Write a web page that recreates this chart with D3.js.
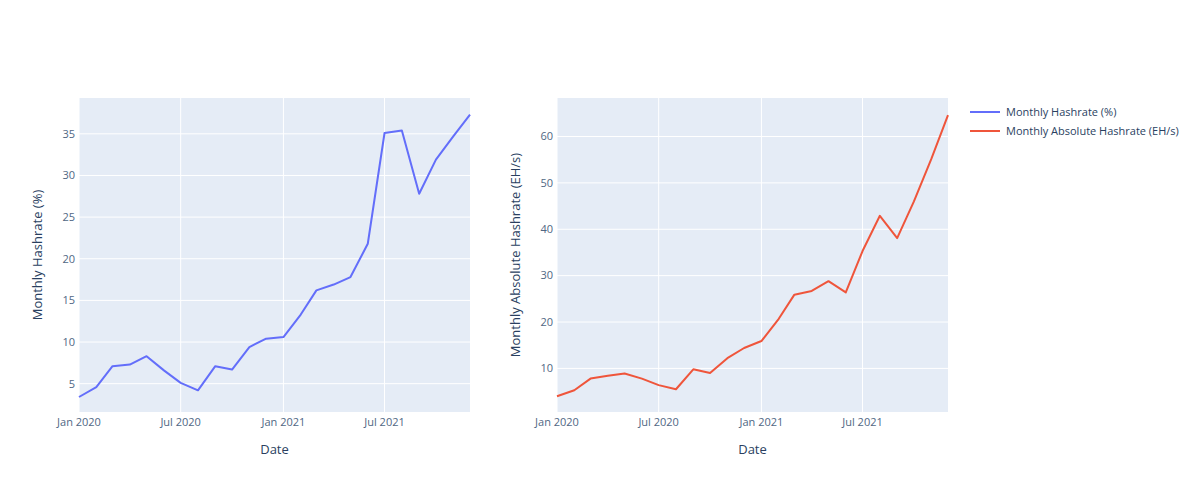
<!DOCTYPE html>
<html>
<head>
<meta charset="utf-8">
<script src="https://cdn.jsdelivr.net/npm/d3@7"></script>
<style>
  body { margin: 0; background: #fff; }
  svg text { font-family: "Open Sans", "Noto Sans", sans-serif; }
</style>
</head>
<body>
<div id="chart"></div>
<script>
const width = 1200, height = 492;

// monthly data, Jan 2020 - Dec 2021
const months = ["2020-01","2020-02","2020-03","2020-04","2020-05","2020-06","2020-07","2020-08","2020-09","2020-10","2020-11","2020-12",
                "2021-01","2021-02","2021-03","2021-04","2021-05","2021-06","2021-07","2021-08","2021-09","2021-10","2021-11","2021-12"];
const hashratePct = [3.4, 4.6, 7.1, 7.3, 8.3, 6.6, 5.1, 4.2, 7.1, 6.7, 9.4, 10.4,
                     10.6, 13.3, 16.2, 16.9, 17.8, 21.8, 35.1, 35.4, 27.8, 31.9, 34.7, 37.3];
const hashrateAbs = [4.0, 5.3, 7.8, 8.4, 8.9, 7.8, 6.4, 5.5, 9.8, 9.0, 12.2, 14.4,
                     15.9, 20.7, 25.9, 26.7, 28.8, 26.4, 35.3, 42.9, 38.1, 46.0, 55.1, 64.6];
const xTickDates = ["2020-01","2020-07","2021-01","2021-07"];
const pctTicks = [5, 10, 15, 20, 25, 30, 35];
const absTicks = [10, 20, 30, 40, 50, 60];
const seriesNames = ["Monthly Hashrate (%)", "Monthly Absolute Hashrate (EH/s)"];
const seriesColors = ["#636efa", "#EF553B"];

const parseMonth = d3.timeParse("%Y-%m");
const dates = months.map(parseMonth);
const fmt = d3.timeFormat("%b %Y");

const svg = d3.select("#chart").append("svg")
  .attr("width", width)
  .attr("height", height);

function drawPanel(opts) {
  const x = d3.scaleTime()
    .domain(d3.extent(dates))
    .range([opts.left, opts.right]);
  const y = d3.scaleLinear()
    .domain(opts.yDomain)
    .range([opts.bottom, opts.top]);

  const g = svg.append("g");

  g.append("rect")
    .attr("x", opts.left).attr("y", opts.top)
    .attr("width", opts.right - opts.left)
    .attr("height", opts.bottom - opts.top)
    .attr("fill", "#e5ecf6");

  // grid
  g.selectAll(".vgrid")
    .data(xTickDates.map(parseMonth))
    .enter().append("line")
      .attr("x1", d => x(d)).attr("x2", d => x(d))
      .attr("y1", opts.top).attr("y2", opts.bottom)
      .attr("stroke", "#fff").attr("stroke-width", 1);
  g.selectAll(".hgrid")
    .data(opts.yTicks)
    .enter().append("line")
      .attr("x1", opts.left).attr("x2", opts.right)
      .attr("y1", d => y(d)).attr("y2", d => y(d))
      .attr("stroke", "#fff").attr("stroke-width", 1);

  // x tick labels
  g.selectAll(".xlab")
    .data(xTickDates.map(parseMonth))
    .enter().append("text")
      .attr("x", d => x(d))
      .attr("y", opts.bottom + 14)
      .attr("text-anchor", "middle")
      .attr("font-size", 11)
      .attr("fill", "#506784")
      .text(d => fmt(d).replace("January", "Jan"));

  // y tick labels
  g.selectAll(".ylab")
    .data(opts.yTicks)
    .enter().append("text")
      .attr("x", opts.left - 4)
      .attr("y", d => y(d))
      .attr("dy", "0.35em")
      .attr("text-anchor", "end")
      .attr("font-size", 11)
      .attr("fill", "#506784")
      .text(d => d);

  // axis titles
  g.append("text")
    .attr("x", (opts.left + opts.right) / 2)
    .attr("y", 454)
    .attr("text-anchor", "middle")
    .attr("font-size", 13)
    .attr("fill", "#2a3f5f")
    .text("Date");

  g.append("text")
    .attr("transform", `translate(${opts.titleX},${(opts.top + opts.bottom) / 2}) rotate(-90)`)
    .attr("text-anchor", "middle")
    .attr("dy", "0.35em")
    .attr("font-size", 13)
    .attr("fill", "#2a3f5f")
    .text(opts.yTitle);

  const line = d3.line()
    .x((d, i) => x(dates[i]))
    .y(d => y(d));

  g.append("path")
    .datum(opts.values)
    .attr("d", line)
    .attr("fill", "none")
    .attr("stroke", opts.color)
    .attr("stroke-width", 2)
    .attr("stroke-linejoin", "round");
}

drawPanel({
  left: 79, right: 470, top: 98, bottom: 412,
  yDomain: [1.6, 39.3], yTicks: pctTicks,
  values: hashratePct, color: seriesColors[0],
  yTitle: "Monthly Hashrate (%)", titleX: 37
});

drawPanel({
  left: 557, right: 948, top: 98, bottom: 412,
  yDomain: [0.6, 68.3], yTicks: absTicks,
  values: hashrateAbs, color: seriesColors[1],
  yTitle: "Monthly Absolute Hashrate (EH/s)", titleX: 515
});

// legend
const legend = svg.append("g").attr("transform", "translate(970,112)");
const item = legend.selectAll("g")
  .data(seriesNames)
  .enter().append("g")
    .attr("transform", (d, i) => `translate(0,${i * 19})`);
item.append("line")
  .attr("x1", 0).attr("x2", 30)
  .attr("stroke", (d, i) => seriesColors[i])
  .attr("stroke-width", 2);
item.append("text")
  .attr("x", 36)
  .attr("dy", "0.35em")
  .attr("font-size", 11)
  .attr("fill", "#2a3f5f")
  .text(d => d);
</script>
</body>
</html>
